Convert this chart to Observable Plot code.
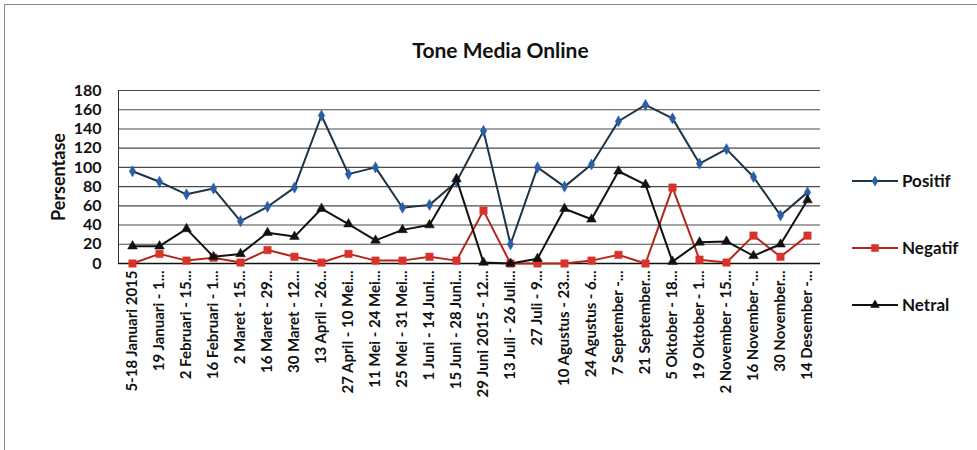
<!DOCTYPE html>
<html>
<head>
<meta charset="utf-8">
<script src="https://cdn.jsdelivr.net/npm/d3@7"></script>
<script src="https://cdn.jsdelivr.net/npm/@observablehq/plot@0.6"></script>
<style>
  html, body { margin: 0; padding: 0; background: #fff; }
  #chart { position: relative; width: 977px; height: 450px; overflow: hidden; }
  #frame { position: absolute; left: 4px; top: 4px; width: 990px; height: 460px; border: 1.5px solid #8a8a8a; box-sizing: border-box; pointer-events: none; }
</style>
</head>
<body>
<div id="chart"><div id="frame"></div></div>
<script>
const title = "Tone Media Online";
const yLabel = "Persentase";
const categories = [
  "5-18 Januari 2015", "19 Januari - 1...", "2 Februari - 15...", "16 Februari - 1...",
  "2 Maret - 15...", "16 Maret - 29...", "30 Maret - 12...", "13 April - 26...",
  "27 April - 10 Mei...", "11 Mei - 24 Mei...", "25 Mei - 31 Mei...", "1 Juni - 14 Juni...",
  "15 Juni - 28 Juni...", "29 Juni 2015 - 12...", "13 Juli - 26 Juli...", "27 Juli - 9...",
  "10 Agustus - 23...", "24 Agustus - 6...", "7 September -...", "21 September...",
  "5 Oktober - 18...", "19 Oktober - 1...", "2 November - 15...", "16 November -...",
  "30 November...", "14 Desember -..."
];
const positif = [96, 85, 72, 78, 44, 59, 79, 154, 93, 100, 58, 61, 85, 138, 20, 100, 80, 103, 148, 165, 151, 104, 119, 90, 50, 74];
const negatif = [0, 10, 3, 6, 1, 14, 7, 1, 10, 3, 3, 7, 3, 55, 0, 0, 0, 3, 9, 0, 79, 4, 1, 29, 7, 29];
const netral  = [18, 18, 36, 7, 10, 32, 28, 57, 41, 24, 35, 40, 88, 1, 0, 5, 57, 46, 96, 82, 2, 22, 23, 8, 20, 66];
const yTicks = [0, 20, 40, 60, 80, 100, 120, 140, 160, 180];
const seriesNames = ["Positif", "Negatif", "Netral"];
const lineColors = ["#1d3447", "#b3261e", "#111111"];
const markColors = ["#2a5fa8", "#d8332a", "#111111"];
const markSymbols = ["diamond", "square", "triangle"];
const markSizes = [3.4, 4.2, 3.6];
const seriesValues = [positif, negatif, netral];

const font = "Lato, 'Open Sans', sans-serif";

const marks = [
  Plot.ruleY(yTicks, {stroke: "#4a4a4a", strokeWidth: 1.1}),
  Plot.frame({anchor: "left", stroke: "#333"}),
  Plot.ruleY([0], {stroke: "#111", strokeWidth: 1.3}),
  Plot.axisY({ticks: yTicks, tickSize: 0, tickPadding: 17, fontSize: 16, fontWeight: "bold", label: null, fill: "#111"}),
  Plot.axisX({tickSize: 0, tickPadding: 7, tickRotate: -90, fontSize: 15, fontWeight: "bold", label: null, fill: "#111"}),
  Plot.text([yLabel], {frameAnchor: "left", textAnchor: "middle", rotate: -90, dx: -59, fontSize: 18, fontWeight: "bold", fill: "#111"}),
  Plot.text([title], {frameAnchor: "top", textAnchor: "middle", dx: 31, dy: -47, fontSize: 21, fontWeight: "bold", fill: "#111"})
];
seriesValues.forEach((vals, i) => {
  const rows = categories.map((c, j) => ({cat: c, value: vals[j]}));
  marks.push(Plot.line(rows, {x: "cat", y: "value", stroke: lineColors[i], strokeWidth: 2}));
  marks.push(Plot.dot(rows, {x: "cat", y: "value", symbol: markSymbols[i], r: markSizes[i], fill: markColors[i], stroke: markColors[i], strokeWidth: 0.5}));
});

const chart = Plot.plot({
  width: 977,
  height: 450,
  marginLeft: 118,
  marginRight: 157,
  marginTop: 90,
  marginBottom: 187,
  style: {fontFamily: font, background: "transparent", color: "#111"},
  x: {type: "point", domain: categories, padding: 0.5, axis: null},
  y: {domain: [0, 180], axis: null},
  marks
});
document.getElementById("chart").insertBefore(chart, document.getElementById("frame"));

// Legend
const svg = d3.select(chart);
const legendY = [181, 248, 305];
const lg = svg.append("g").attr("font-family", font).attr("font-size", 17).attr("font-weight", "bold").attr("text-anchor", "start");
const sym = {diamond: d3.symbolDiamond, square: d3.symbolSquare, triangle: d3.symbolTriangle};
seriesNames.forEach((name, i) => {
  const g = lg.append("g").attr("transform", `translate(852,${legendY[i]})`);
  g.append("line").attr("x1", 0).attr("x2", 46).attr("y1", 0).attr("y2", 0).attr("stroke", lineColors[i]).attr("stroke-width", 2);
  g.append("path").attr("d", d3.symbol(sym[markSymbols[i]], Math.PI * markSizes[i] * markSizes[i])()).attr("transform", "translate(23,0)").attr("fill", markColors[i]);
  g.append("text").attr("x", 50).attr("y", 0).attr("dy", "0.35em").attr("text-anchor", "start").attr("fill", "#111").text(name);
});
</script>
</body>
</html>
